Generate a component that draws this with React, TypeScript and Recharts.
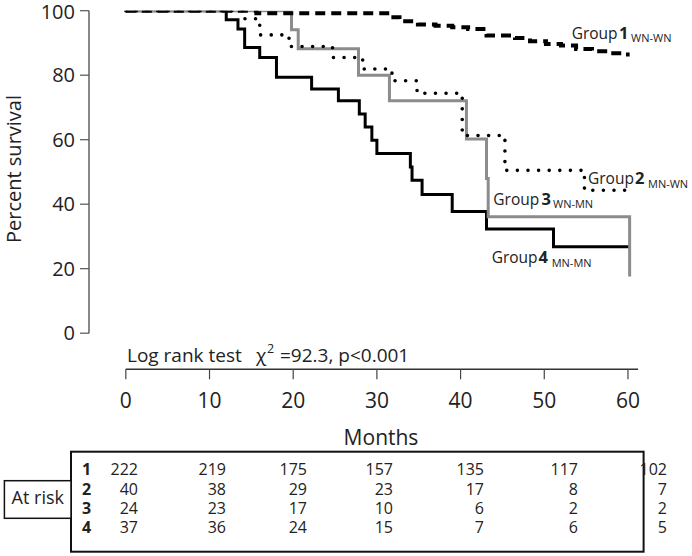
import React from 'react';
import { LineChart, Line, XAxis, YAxis, ReferenceLine } from 'recharts';

// ---- Data ----
const group1Months = [0, 15.6, 31.5, 32.7, 34.9, 37.0, 39.0, 40.9, 43.1, 46.5, 48.3, 50.2, 52.0, 53.8, 55.7, 57.6, 59.3, 60.2];
const group1Survival = [100, 99.2, 98.0, 96.7, 95.7, 95.3, 94.9, 94.3, 92.3, 91.5, 90.5, 89.7, 89.2, 88.1, 87.4, 86.8, 86.4, 86.4];

const group2Months = [0, 14.2, 16.0, 19.5, 24.7, 28.3, 31.8, 34.8, 40.2, 45.3, 54.8, 60.2];
const group2Survival = [100, 97.5, 92.5, 88.9, 85.5, 81.9, 78.3, 74.4, 61.3, 50.5, 44.3, 44.3];

const group3Months = [0, 19.8, 20.6, 27.8, 31.5, 40.7, 43.1, 43.3, 60.2];
const group3Survival = [100, 94.1, 88.2, 80.0, 72.1, 60.2, 48.0, 36.1, 17.6];

const group4Months = [0, 12.0, 13.4, 14.2, 16.0, 18.0, 22.2, 25.4, 27.9, 28.6, 29.4, 30.0, 34.0, 34.2, 35.4, 39.0, 43.1, 51.1, 60.2];
const group4Survival = [100, 97.2, 94.3, 88.6, 85.5, 79.4, 75.7, 72.1, 68.0, 63.9, 59.8, 55.7, 51.5, 47.4, 43.0, 37.7, 32.3, 26.8, 26.8];

const monthTicks = [0, 10, 20, 30, 40, 50, 60];
const percentTicks = [0, 20, 40, 60, 80, 100];

const riskGroupLabels = ['1', '2', '3', '4'];
const riskGroup1 = [222, 219, 175, 157, 135, 117, 102];
const riskGroup2 = [40, 38, 29, 23, 17, 8, 7];
const riskGroup3 = [24, 23, 17, 10, 6, 2, 2];
const riskGroup4 = [37, 36, 24, 15, 7, 6, 5];

const toSeries = (ms: number[], ss: number[]) => ms.map((m, i) => ({ m, s: ss[i] }));

const FONT = '"Open Sans", "Noto Sans", sans-serif';

function GroupLabel(props: { x: number; y: number; numX: number; subX: number; num: string; sub: string }) {
  const { x, y, numX, subX, num, sub } = props;
  return (
    <text fontFamily={FONT} fill="#222">
      <tspan x={x} y={y} fontSize={15.5}>Group</tspan>
      <tspan x={numX} y={y} fontSize={16.5} fontWeight="bold">{num}</tspan>
      <tspan x={subX} y={y + 3.3} fontSize={11}>{sub}</tspan>
    </text>
  );
}

export default function App() {
  const s1 = toSeries(group1Months, group1Survival);
  const s2 = toSeries(group2Months, group2Survival);
  const s3 = toSeries(group3Months, group3Survival);
  const s4 = toSeries(group4Months, group4Survival);

  const riskRows = [riskGroup1, riskGroup2, riskGroup3, riskGroup4];
  const colRight = [138, 226, 307, 393, 484, 578, 667];
  const rowBase = [475, 494.5, 514, 533.3];

  return (
    <div style={{ position: 'absolute', left: 0, top: 0, width: 692, height: 556, background: '#fff' }}>
      <LineChart
        width={692}
        height={556}
        margin={{ top: 10.7, right: 54, left: 0, bottom: 156.7 }}
      >
        <XAxis
          dataKey="m"
          type="number"
          domain={[-4.4, 61.2]}
          ticks={monthTicks}
          height={30}
          axisLine={false}
          tickLine={{ stroke: '#444', strokeWidth: 1.2 }}
          tickSize={10}
          tickMargin={14}
          tick={{ fontSize: 21, fill: '#222', fontFamily: FONT }}
          allowDataOverflow
        />
        <YAxis
          type="number"
          domain={[-11.2, 100]}
          ticks={percentTicks}
          width={89}
          axisLine={false}
          tickLine={{ stroke: '#555', strokeWidth: 1.2 }}
          tickSize={9}
          tickMargin={5}
          tick={{ fontSize: 20, fill: '#222', fontFamily: FONT }}
          allowDataOverflow
        />
        <ReferenceLine
          segment={[{ x: 0, y: -11.2 }, { x: 61.2, y: -11.2 }]}
          stroke="#333"
          strokeWidth={1.4}
        />
        <ReferenceLine
          segment={[{ x: -4.4, y: 0 }, { x: -4.4, y: 100 }]}
          stroke="#555"
          strokeWidth={1.4}
        />
        <Line
          data={s4}
          dataKey="s"
          type="stepAfter"
          stroke="#000"
          strokeWidth={3}
          dot={false}
          isAnimationActive={false}
        />
        <Line
          data={s3}
          dataKey="s"
          type="stepAfter"
          stroke="#8c8c8c"
          strokeWidth={3}
          dot={false}
          isAnimationActive={false}
        />
        <Line
          data={s2}
          dataKey="s"
          type="stepAfter"
          stroke="#000"
          strokeWidth={3.6}
          strokeDasharray="0 10.6"
          strokeLinecap="round"
          dot={false}
          isAnimationActive={false}
        />
        <Line
          data={s1}
          dataKey="s"
          type="stepAfter"
          stroke="#000"
          strokeWidth={4}
          strokeDasharray="10 6"
          dot={false}
          isAnimationActive={false}
        />
      </LineChart>

      <svg
        width={692}
        height={556}
        style={{ position: 'absolute', left: 0, top: 0, pointerEvents: 'none' }}
      >
        <text
          x={21}
          y={169}
          transform="rotate(-90 21 169)"
          textAnchor="middle"
          fontSize={20}
          fontFamily={FONT}
          fill="#222"
        >
          Percent survival
        </text>

        <text x={381} y={445} textAnchor="middle" fontSize={21} fontFamily={FONT} fill="#222">
          Months
        </text>

        <text fontFamily={FONT} fill="#222" fontSize={19}>
          <tspan x={127} y={361.7}>Log rank test</tspan>
          <tspan x={256} y={361.7}>χ</tspan>
          <tspan x={267} y={353} fontSize={12.5}>2</tspan>
          <tspan x={280} y={361.7}>=92.3, p&lt;0.001</tspan>
        </text>

        <GroupLabel x={571.7} y={39} numX={619} subX={631} num="1" sub="WN-WN" />
        <GroupLabel x={588} y={184.3} numX={635} subX={648} num="2" sub="MN-WN" />
        <GroupLabel x={493.3} y={205} numX={541.5} subX={553} num="3" sub="WN-MN" />
        <GroupLabel x={491.7} y={263.3} numX={538.5} subX={551.7} num="4" sub="MN-MN" />

        {/* At-risk table */}
        <rect x={71} y={451.7} width={572.6} height={100} fill="none" stroke="#111" strokeWidth={2} />
        <rect x={4.4} y={480.7} width={66.6} height={37.6} fill="#fff" stroke="#111" strokeWidth={1.5} />
        <text x={37.8} y={504.3} textAnchor="middle" fontSize={18} fontFamily={FONT} fill="#222">
          At risk
        </text>
        {riskGroupLabels.map((g, r) => (
          <text key={'g' + g} x={82} y={rowBase[r]} fontSize={16} fontWeight="bold" fontFamily={FONT} fill="#222">
            {g}
          </text>
        ))}
        {riskRows.map((row, r) =>
          row.map((v, c) => (
            <text
              key={'v' + r + '-' + c}
              x={colRight[c]}
              y={rowBase[r]}
              textAnchor="end"
              fontSize={16}
              fontFamily={FONT}
              fill="#222"
            >
              {v}
            </text>
          ))
        )}
      </svg>
    </div>
  );
}
